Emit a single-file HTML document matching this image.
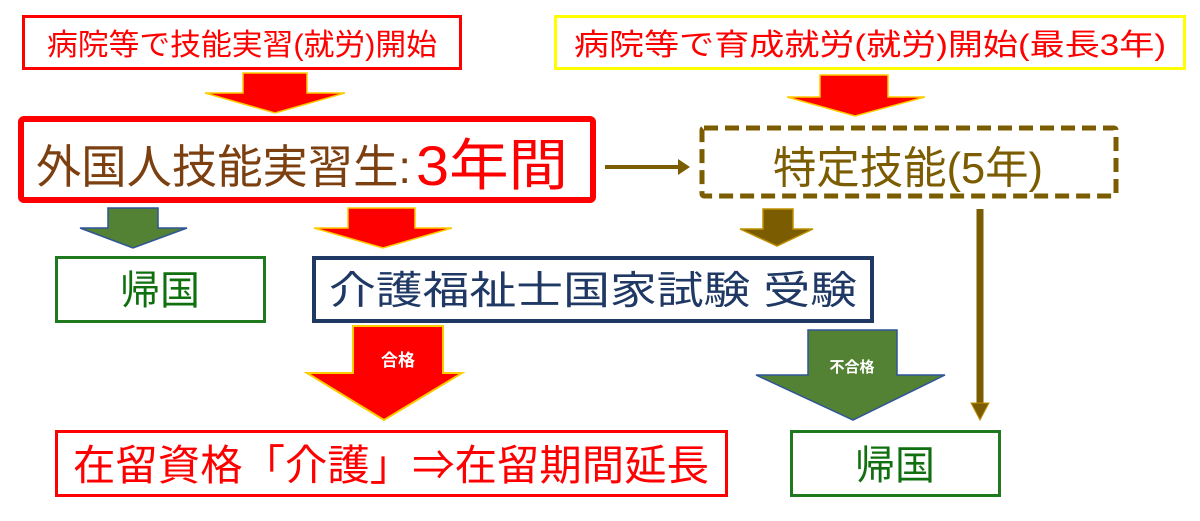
<!DOCTYPE html>
<html><head><meta charset="utf-8"><style>
html,body{margin:0;padding:0;background:#fff;width:1200px;height:521px;overflow:hidden}
svg text{font-family:"Liberation Sans","Noto Sans CJK JP",sans-serif}
</style></head><body>
<svg width="1200" height="521" viewBox="0 0 1200 521" xmlns="http://www.w3.org/2000/svg">
<rect x="23.5" y="16.5" width="437" height="52" fill="#fff" stroke="#f00" stroke-width="3"/>
<text x="242" y="55" font-size="30" fill="#f00" text-anchor="middle" textLength="390" lengthAdjust="spacingAndGlyphs">病院等で技能実習(就労)開始</text>
<rect x="555.5" y="16.5" width="629" height="52" fill="#fff" stroke="#ff0" stroke-width="3"/>
<text x="870" y="55" font-size="30" fill="#f00" text-anchor="middle" textLength="592" lengthAdjust="spacingAndGlyphs">病院等で育成就労(就労)開始(最長3年)</text>
<polygon points="243,73 307,73 307,93 345,93 275,113 205,93 243,93" fill="#f00" stroke="#fc0" stroke-width="1.5"/>
<polygon points="820,75 888,75 888,97 925,97 855,116 787,97 820,97" fill="#f00" stroke="#fc0" stroke-width="1.5"/>
<rect x="21" y="119" width="572" height="81" rx="3" fill="#fff" stroke="#f00" stroke-width="6"/>
<text x="36" y="183" font-size="46" fill="#7b3f10" textLength="375" lengthAdjust="spacingAndGlyphs">外国人技能実習生:</text>
<text x="416" y="185" font-size="56" fill="#f00" textLength="152" lengthAdjust="spacingAndGlyphs">3年間</text>
<line x1="605" y1="167" x2="684" y2="167" stroke="#7b5c00" stroke-width="4"/>
<polygon points="678,159 690,167 678,175" fill="#7b5c00"/>
<rect x="702" y="128" width="414" height="68" rx="2" fill="#fff" stroke="#7b5c00" stroke-width="5" stroke-dasharray="14,7"/>
<text x="908" y="183" font-size="44" fill="#7b5c00" text-anchor="middle" textLength="270" lengthAdjust="spacingAndGlyphs">特定技能(5年)</text>
<polygon points="108,208 158,208 158,228 187,228 133,248 80,228 108,228" fill="#548235" stroke="#2f5597" stroke-width="1.5"/>
<polygon points="348,208 415,208 415,228 452,228 383,248 314,228 348,228" fill="#f00" stroke="#fc0" stroke-width="1.5"/>
<polygon points="763,209 793,209 793,229 813,229 777,246 740,229 763,229" fill="#7b5c00" stroke="#bf9000" stroke-width="1.5"/>
<line x1="980" y1="209" x2="980" y2="408" stroke="#7b5c00" stroke-width="7"/>
<polygon points="971,403 989,403 980,420" fill="#7b5c00" stroke="#bf9000" stroke-width="1"/>
<rect x="56.5" y="257.5" width="208" height="64" fill="#fff" stroke="#1f7a1f" stroke-width="3"/>
<text x="160" y="304" font-size="40" fill="#107010" text-anchor="middle">帰国</text>
<rect x="314" y="258" width="558" height="63" fill="#fff" stroke="#1f3864" stroke-width="4"/>
<text x="593" y="304" font-size="39" fill="#1f3864" text-anchor="middle" textLength="528" lengthAdjust="spacingAndGlyphs">介護福祉士国家試験  受験</text>
<polygon points="353,326 443,326 443,373 462,373 384,420 307,373 353,373" fill="#f00" stroke="#fc0" stroke-width="2"/>
<text x="398" y="366" font-size="17" fill="#fff" text-anchor="middle" font-weight="bold">合格</text>
<polygon points="808,330 897,330 897,375 945,375 853,420 756,375 808,375" fill="#548235" stroke="#2f5597" stroke-width="1.5"/>
<text x="852" y="372" font-size="15" fill="#fff" text-anchor="middle" font-weight="bold">不合格</text>
<rect x="56.5" y="431.5" width="670" height="64" fill="#fff" stroke="#f00" stroke-width="3"/>
<text x="391" y="480" font-size="42" fill="#f00" text-anchor="middle" textLength="636" lengthAdjust="spacingAndGlyphs">在留資格「介護」⇒在留期間延長</text>
<rect x="791.5" y="431.5" width="208" height="64" fill="#fff" stroke="#1f7a1f" stroke-width="3"/>
<text x="895" y="479" font-size="40" fill="#107010" text-anchor="middle">帰国</text>
</svg>
</body></html>
